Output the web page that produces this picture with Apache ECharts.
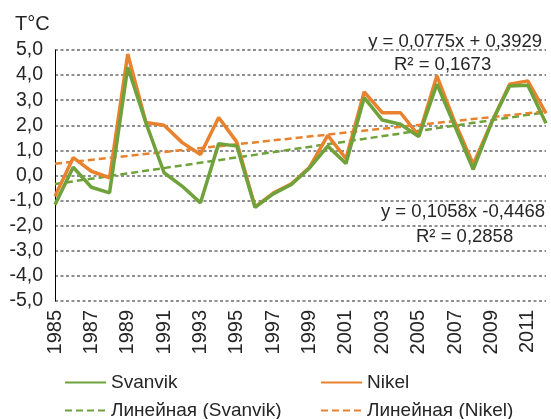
<!DOCTYPE html>
<html>
<head>
<meta charset="utf-8">
<script src="https://cdn.jsdelivr.net/npm/echarts@6/dist/echarts.min.js"></script>
<style>
  html, body { margin: 0; padding: 0; background: #fff; }
  #chart { width: 551px; height: 419px; }
</style>
</head>
<body>
<div id="chart"></div>
<script>
var years = [
  "1985", "1986", "1987", "1988", "1989", "1990", "1991", "1992", "1993", "1994",
  "1995", "1996", "1997", "1998", "1999", "2000", "2001", "2002", "2003", "2004",
  "2005", "2006", "2007", "2008", "2009", "2010", "2011", "2012"
];
var svanvik = [
  -1.16, 0.33, -0.47, -0.69, 4.31, 2.1, 0.11, -0.43, -1.09, 1.27,
  1.17, -1.27, -0.73, -0.36, 0.3, 1.17, 0.48, 3.1, 2.21, 2.04,
  1.55, 3.64, 1.95, 0.24, 2.1, 3.57, 3.6, 2.08
];
var nikel = [
  -0.83, 0.71, 0.17, -0.09, 4.84, 2.11, 2.0, 1.31, 0.84, 2.31,
  1.33, -1.25, -0.7, -0.33, 0.33, 1.6, 0.67, 3.33, 2.5, 2.5,
  1.59, 3.97, 2.1, 0.45, 2.1, 3.64, 3.77, 2.48
];
// trend line end values (1985, 2012)
var svanvikTrend = [-0.34, 2.52];
var nikelTrend = [0.47, 2.56];

var green = "#6fa23a";
var orange = "#e8822e";
var textColor = "#262626";
var font = "Liberation Sans, Arial, sans-serif";

function fmt(v) {
  return v.toFixed(1).replace(".", ",");
}

function legendItem(name, left, top) {
  return {
    left: left,
    top: top,
    itemWidth: 41,
    itemHeight: 14,
    data: [name],
    itemStyle: { opacity: 0 },
    textStyle: { fontSize: 19, fontFamily: font, color: textColor }
  };
}

var myChart = echarts.init(document.getElementById("chart"));

var option = {
  animation: false,
  textStyle: { fontFamily: font, color: textColor },
  grid: { left: 55, right: 5, top: 50, bottom: 118, containLabel: false },
  xAxis: {
    type: "category",
    data: years,
    boundaryGap: false,
    axisLine: { show: false },
    axisTick: { show: false },
    axisLabel: {
      interval: 1,
      rotate: 90,
      margin: 9,
      fontSize: 20,
      fontFamily: font,
      color: textColor
    },
    splitLine: { show: false }
  },
  yAxis: {
    type: "value",
    min: -5,
    max: 5,
    interval: 1,
    axisLine: { show: true, lineStyle: { color: "#000", width: 1 } },
    axisTick: { show: false },
    axisLabel: {
      margin: 12,
      fontSize: 19.5,
      fontFamily: font,
      color: textColor,
      formatter: fmt
    },
    splitLine: {
      show: true,
      lineStyle: { color: "#8f8f8f", width: 2, type: [3, 2.5] }
    }
  },
  legend: [
    legendItem("Svanvik", 59, 368),
    legendItem("Линейная (Svanvik)", 59, 396),
    legendItem("Nikel", 315, 368),
    legendItem("Линейная (Nikel)", 315, 396)
  ],
  graphic: [
    {
      type: "text", left: 15, top: 14,
      style: { text: "T°C", font: "20px " + font, fill: textColor }
    },
    {
      type: "text", right: 9, top: 32,
      style: { text: "y = 0,0775x + 0,3929", font: "18.5px " + font, fill: textColor }
    },
    {
      type: "text", left: 394, top: 55,
      style: { text: "R² = 0,1673", font: "18.5px " + font, fill: textColor }
    },
    {
      type: "text", right: 6, top: 202,
      style: { text: "y = 0,1058x -0,4468", font: "18.5px " + font, fill: textColor }
    },
    {
      type: "text", left: 416, top: 227,
      style: { text: "R² = 0,2858", font: "18.5px " + font, fill: textColor }
    }
  ],
  series: [
    {
      name: "Линейная (Svanvik)",
      type: "line",
      symbol: "none",
      data: [[years[0], svanvikTrend[0]], [years[years.length - 1], svanvikTrend[1]]],
      lineStyle: { color: green, width: 2.5, type: [7, 4] },
      itemStyle: { color: green }
    },
    {
      name: "Линейная (Nikel)",
      type: "line",
      symbol: "none",
      data: [[years[0], nikelTrend[0]], [years[years.length - 1], nikelTrend[1]]],
      lineStyle: { color: orange, width: 2.5, type: [7, 4] },
      itemStyle: { color: orange }
    },
    {
      name: "Nikel",
      type: "line",
      symbol: "none",
      data: nikel,
      lineStyle: { color: orange, width: 3.5 },
      itemStyle: { color: orange }
    },
    {
      name: "Svanvik",
      type: "line",
      symbol: "none",
      data: svanvik,
      lineStyle: { color: green, width: 3.5 },
      itemStyle: { color: green }
    }
  ]
};

myChart.setOption(option);
</script>
</body>
</html>
